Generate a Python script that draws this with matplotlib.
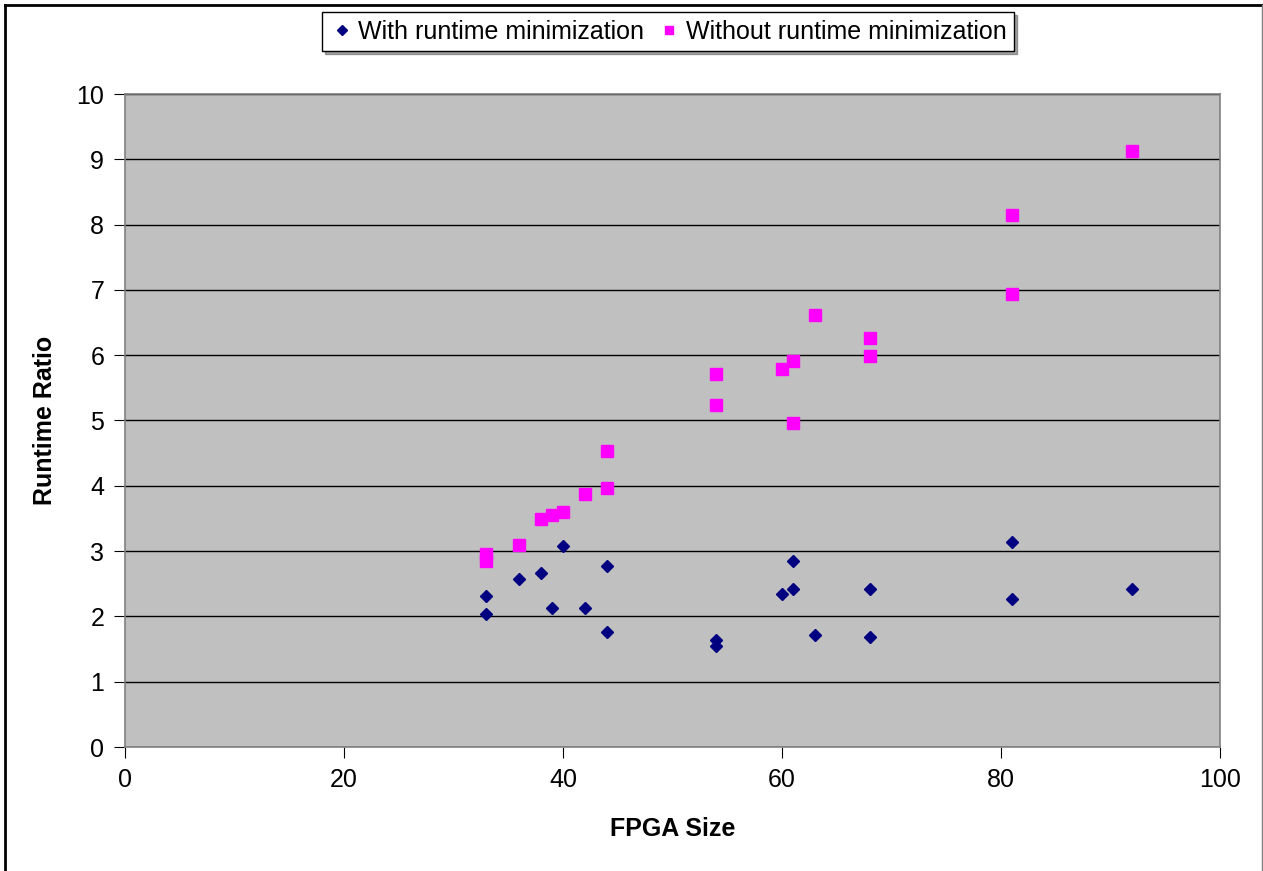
import matplotlib.pyplot as plt
from matplotlib.lines import Line2D

plt.rcParams['font.family'] = ['Liberation Sans', 'DejaVu Sans']

# FPGA size vs runtime ratio
with_x = [33, 33, 36, 38, 39, 40, 42, 44, 44, 54, 54, 60, 61, 61, 63, 68, 68, 81, 81, 92]
with_y = [2.31, 2.04, 2.57, 2.66, 2.13, 3.08, 2.13, 2.77, 1.76, 1.64, 1.55,
          2.34, 2.85, 2.42, 1.72, 2.42, 1.68, 3.14, 2.27, 2.42]

without_x = [33, 33, 36, 38, 39, 40, 42, 44, 44, 54, 54, 60, 61, 61, 63, 68, 68, 81, 81, 92]
without_y = [2.96, 2.85, 3.09, 3.49, 3.55, 3.60, 3.87, 3.97, 4.53, 5.71, 5.24,
             5.79, 5.91, 4.96, 6.62, 6.26, 5.99, 6.94, 8.15, 9.13]

W, H = 1263, 871
fig = plt.figure(figsize=(W / 100, H / 100), dpi=100)
ax = fig.add_axes([125 / W, 1 - 747 / H, (1220 - 125) / W, (747 - 94) / H])
ax.set_facecolor('#C0C0C0')

ax.plot(with_x, with_y, linestyle='none', marker='D', markersize=6,
        color='#000080', label='With runtime minimization', zorder=3)
ax.plot(without_x, without_y, linestyle='none', marker='s', markersize=8,
        color='#FF00FF', label='Without runtime minimization', zorder=3)

ax.set_xlim(0, 100)
ax.set_ylim(0, 10)
ax.set_xticks(range(0, 101, 20))
ax.set_yticks(range(0, 11))
ax.yaxis.grid(True, color='black', linewidth=1)
ax.set_axisbelow(True)

for side in ax.spines:
    ax.spines[side].set_color('#808080')
    ax.spines[side].set_linewidth(1.2)

ax.tick_params(direction='out', length=8, labelsize=18, colors='black', pad=7)
ax.set_xlabel('FPGA Size', fontsize=18, fontweight='bold', labelpad=18)
ax.set_ylabel('Runtime Ratio', fontsize=18, fontweight='bold', labelpad=14)

leg = fig.legend(loc='center', bbox_to_anchor=(668 / W, 1 - 32 / H), ncol=2,
                 fontsize=18, frameon=True, fancybox=False, shadow=True,
                 handletextpad=0.15, columnspacing=0.5, handlelength=1.0,
                 borderpad=0.3, markerscale=0.8)
leg.get_frame().set_edgecolor('black')
leg.get_frame().set_linewidth(1)

# outer border of the chart (top and left dark, right thin gray)
fig.add_artist(Line2D([5 / W, 5 / W], [0, 1 - 5 / H], transform=fig.transFigure,
                      color='black', linewidth=2))
fig.add_artist(Line2D([5 / W, 1], [1 - 5 / H, 1 - 5 / H], transform=fig.transFigure,
                      color='black', linewidth=2))
fig.add_artist(Line2D([1 - 1.5 / W, 1 - 1.5 / W], [0, 1 - 5 / H], transform=fig.transFigure,
                      color='#808080', linewidth=1))

fig.savefig('out.png', dpi=100)
